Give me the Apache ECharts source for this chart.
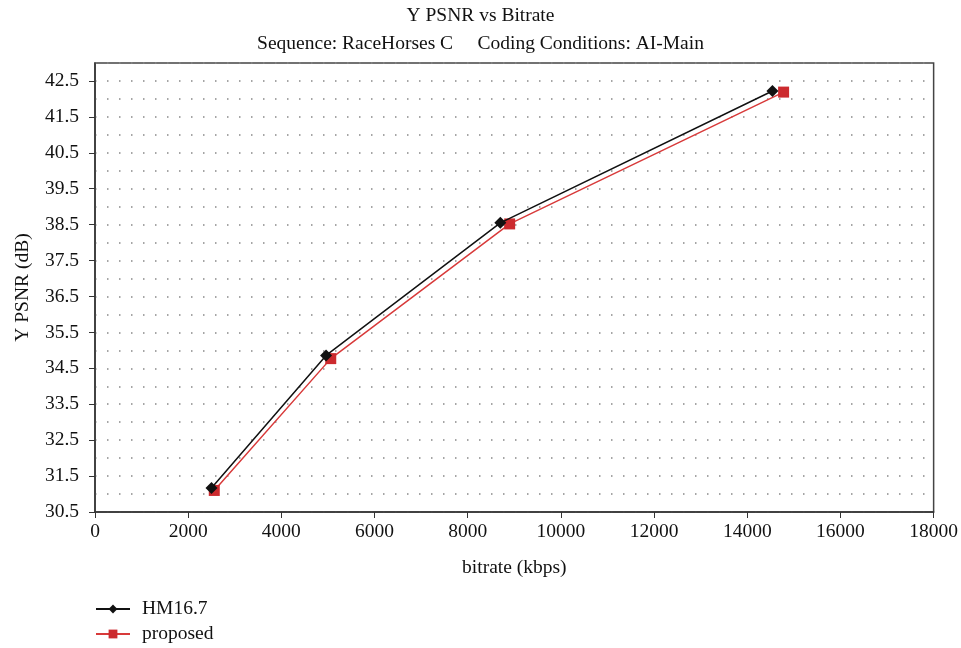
<!DOCTYPE html>
<html>
<head>
<meta charset="utf-8">
<script src="https://cdn.jsdelivr.net/npm/echarts@6/dist/echarts.min.js"></script>
<style>
  html, body { margin: 0; padding: 0; background: #fff; }
  #chart { width: 961px; height: 648px; }
</style>
</head>
<body>
<div id="chart"></div>
<script>
// values
var hmBitrate = [2500, 4960, 8700, 14540];
var hmPsnr = [31.17, 34.86, 38.55, 42.22];
var propBitrate = [2560, 5060, 8900, 14780];
var propPsnr = [31.1, 34.77, 38.52, 42.19];
var seriesNames = ["HM16.7", "proposed"];
var yTicks = [30.5, 31.5, 32.5, 33.5, 34.5, 35.5, 36.5, 37.5, 38.5, 39.5, 40.5, 41.5, 42.5];

var FONT = "Liberation Serif";
var FS = 19.5;

function pairs(xs, ys) {
  return xs.map(function (x, i) { return [x, ys[i]]; });
}

var chart = echarts.init(document.getElementById("chart"));
chart.setOption({
  animation: false,
  textStyle: { fontFamily: FONT, color: "#111" },
  title: {
    text: "Y PSNR vs Bitrate",
    subtext: "Sequence: RaceHorses C     Coding Conditions: AI-Main",
    left: "center",
    top: 1,
    itemGap: 8,
    textStyle: { fontFamily: FONT, fontSize: FS, fontWeight: "normal", color: "#111" },
    subtextStyle: { fontFamily: FONT, fontSize: FS, color: "#111" }
  },
  grid: { left: 95, right: 27, top: 63, bottom: 136, show: true, borderColor: "#444", borderWidth: 1.5, backgroundColor: "transparent" },
  legend: {
    orient: "vertical",
    left: 95,
    top: 599,
    padding: 0,
    itemWidth: 34,
    itemHeight: 11,
    itemGap: 5,
    textStyle: { fontFamily: FONT, fontSize: FS, color: "#111", lineHeight: 20, padding: [0, 0, 0, 7] },
    data: seriesNames
  },
  xAxis: {
    type: "value",
    min: 0,
    max: 18000,
    interval: 2000,
    name: "bitrate (kbps)",
    nameLocation: "middle",
    nameGap: 46,
    nameTextStyle: { fontFamily: FONT, fontSize: FS, color: "#111" },
    axisLine: { lineStyle: { color: "#333", width: 1.5 } },
    axisTick: { show: true, inside: false, length: 6, lineStyle: { color: "#333" } },
    axisLabel: {
      fontFamily: FONT, fontSize: FS, color: "#111", margin: 10,
      formatter: function (v) { return String(v); }
    },
    splitLine: { show: false }
  },
  yAxis: [
    {
      type: "value",
      min: 30.5,
      max: 43,
      interval: 0.5,
      name: "Y PSNR (dB)",
      nameLocation: "middle",
      nameGap: 62,
      nameTextStyle: { fontFamily: FONT, fontSize: FS, color: "#111" },
      axisLine: { show: true, lineStyle: { color: "#333", width: 1.5 } },
      axisTick: { show: true, length: 6, lineStyle: { color: "#333" }, customValues: yTicks },
      axisLabel: {
        fontFamily: FONT, fontSize: FS, color: "#111", margin: 16,
        customValues: yTicks,
        formatter: function (v) { return Number(v).toFixed(1); }
      },
      splitLine: { show: false }
    },
    {
      // dotted grid every 0.5 dB
      type: "value",
      position: "left",
      min: 30.5,
      max: 43,
      interval: 0.5,
      axisLine: { show: false },
      axisTick: { show: false },
      axisLabel: { show: false },
      splitLine: { show: true, lineStyle: { color: "#888", width: 1.5, type: [1.5, 10.5] } }
    }
  ],
  series: [
    {
      name: seriesNames[0],
      type: "line",
      data: pairs(hmBitrate, hmPsnr),
      symbol: "diamond",
      symbolSize: 12,
      itemStyle: { color: "#111" },
      lineStyle: { color: "#111", width: 1.5 },
      z: 3
    },
    {
      name: seriesNames[1],
      type: "line",
      data: pairs(propBitrate, propPsnr),
      symbol: "rect",
      symbolSize: 11,
      itemStyle: { color: "#cc2a2e" },
      lineStyle: { color: "#d83a3a", width: 1.5 },
      z: 2
    }
  ]
});
</script>
</body>
</html>
